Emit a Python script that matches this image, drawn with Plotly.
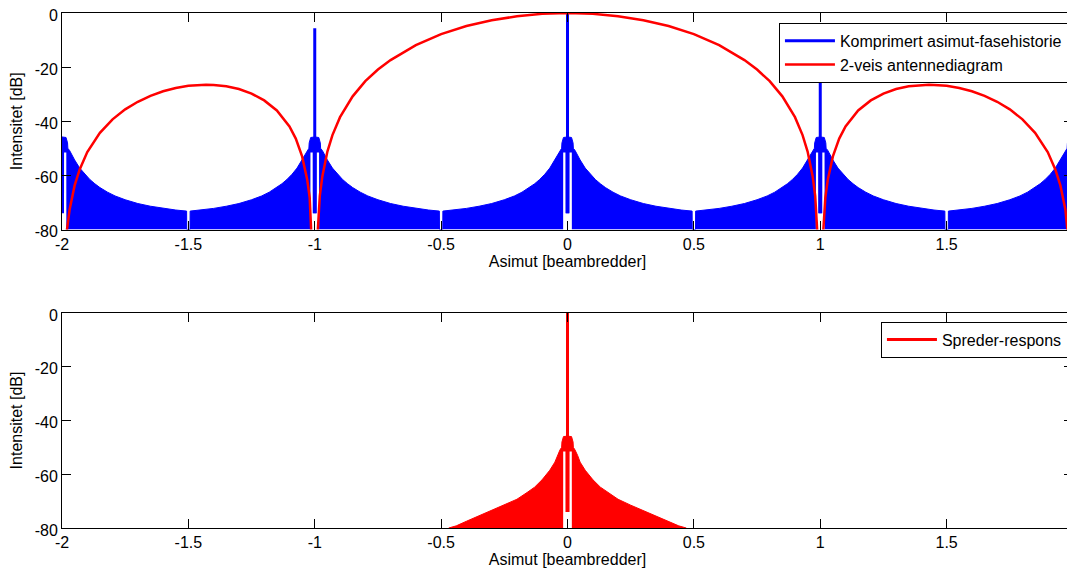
import numpy as np
import plotly.graph_objects as go

# ---------------- data ----------------
# x tick positions / labels (beamwidths) and y ticks (dB)
x_ticks = [-2, -1.5, -1, -0.5, 0, 0.5, 1, 1.5, 2]
x_tick_labels = ["-2", "-1.5", "-1", "-0.5", "0", "0.5", "1", "1.5", "2"]
y_ticks = [0, -20, -40, -60, -80]
y_tick_labels = ["0", "-20", "-40", "-60", "-80"]

# Compressed azimuth phase history: lobe centres and spike peaks
lobe_centres = [-2, -1, 0, 1, 2]
spike_x = [-1, 0, 1]
spike_peak_db = [-5.6, 0.0, -5.6]
spike_floor_db = -74.0

# Upper envelope of one lobe vs. offset from its centre (top panel)
top_offset = [0.0, 0.016, 0.022, 0.0232, 0.03, 0.04, 0.05, 0.07, 0.09, 0.11, 0.13,
              0.15, 0.18, 0.21, 0.25, 0.30, 0.35, 0.40, 0.45, 0.493, 0.4935, 0.5]
top_upper_db = [-45.8, -46, -48, -50, -50.8, -52.6, -54.3, -57.3, -59.6, -61.5, -63.1,
                -64.5, -66.2, -67.6, -69.0, -70.4, -71.4, -72.2, -72.8, -73.2, -80, -80]

# Lower envelope (white gaps next to the spike)
low_offset = [0.0, 0.008, 0.0082, 0.017, 0.0172, 0.5]
low_db = [-74, -74, -51.5, -51.5, -80, -80]

# Scatterer response (bottom panel), single lobe at 0
bot_offset = [0.0, 0.016, 0.022, 0.0232, 0.03, 0.04, 0.05, 0.07, 0.10, 0.13, 0.16,
              0.20, 0.25, 0.30, 0.35, 0.40, 0.44, 0.47]
bot_upper_db = [-45.8, -46, -48, -50, -51, -53, -55.5, -58.5, -62, -64.8, -66.8,
                -69.3, -71.5, -73.5, -75.5, -77.5, -79.2, -80]
bot_low_offset = [0.0, 0.008, 0.0082, 0.017, 0.0172, 0.47]
bot_low_db = [-74, -74, -51.5, -51.5, -80, -80]
bot_spike_peak_db = 0.0

# Two-way antenna pattern (x >= 0, symmetric)
ant_x = [0, 0.1, 0.2, 0.3, 0.4, 0.5, 0.6, 0.7, 0.75, 0.8, 0.85, 0.9, 0.93, 0.95, 0.97,
         0.98, 0.988, 1.0, 1.012, 1.02, 1.03, 1.05, 1.075, 1.1, 1.15, 1.2, 1.25, 1.3,
         1.35, 1.4, 1.43, 1.45, 1.5, 1.55, 1.6, 1.65, 1.7, 1.75, 1.8, 1.85, 1.9, 1.93,
         1.95, 1.97, 1.98, 1.99, 2.0]
ant_db = [0, -0.3, -1.2, -2.7, -4.8, -7.8, -11.9, -17.4, -20.9, -25.2, -30.8, -38.5,
          -45.1, -51.2, -60.4, -67.6, -80.5, -110, -80.5, -68.3, -61.5, -53.0, -46.4,
          -41.9, -36.0, -32.3, -29.8, -28.1, -27.1, -26.6, -26.5, -26.6, -26.9, -27.7,
          -28.9, -30.6, -32.8, -35.6, -39.3, -44.3, -51.4, -57.8, -63.7, -72.7, -79.8,
          -92, -110]

BLUE = "#0000FF"
RED = "#FF0000"
FONT = "Liberation Sans, Arial, sans-serif"


def mirror(offsets, values, centre):
    o = np.asarray(offsets, float)
    v = np.asarray(values, float)
    xs = np.concatenate([centre - o[::-1], centre + o[1:]])
    ys = np.concatenate([v[::-1], v[1:]])
    return xs, ys


def lobes(offsets, values, centres):
    xs, ys = [], []
    for c in centres:
        x, y = mirror(offsets, values, c)
        xs.append(x)
        ys.append(y)
    return np.concatenate(xs), np.concatenate(ys)


fig = go.Figure()

# ---------------- top panel ----------------
lx, ly = lobes(low_offset, low_db, lobe_centres)
ux, uy = lobes(top_offset, top_upper_db, lobe_centres)
fig.add_trace(go.Scatter(x=lx, y=ly, mode="lines", line=dict(color=BLUE, width=0),
                         showlegend=False, hoverinfo="skip", xaxis="x", yaxis="y"))
fig.add_trace(go.Scatter(x=ux, y=uy, mode="lines", line=dict(color=BLUE, width=1),
                         fill="tonexty", fillcolor=BLUE, showlegend=False,
                         hoverinfo="skip", xaxis="x", yaxis="y"))
sx, sy = [], []
for xc, pk in zip(spike_x, spike_peak_db):
    sx += [xc, xc, None]
    sy += [spike_floor_db, pk, None]
fig.add_trace(go.Scatter(x=sx, y=sy, mode="lines", line=dict(color=BLUE, width=3),
                         name="Komprimert asimut-fasehistorie", legend="legend",
                         xaxis="x", yaxis="y"))
ax_full, ay_full = mirror(ant_x, ant_db, 0.0)
fig.add_trace(go.Scatter(x=ax_full, y=ay_full, mode="lines", line=dict(color=RED, width=2.5),
                         name="2-veis antennediagram", legend="legend",
                         xaxis="x", yaxis="y"))

# ---------------- bottom panel ----------------
blx, bly = mirror(bot_low_offset, bot_low_db, 0.0)
bux, buy = mirror(bot_offset, bot_upper_db, 0.0)
fig.add_trace(go.Scatter(x=blx, y=bly, mode="lines", line=dict(color=RED, width=0),
                         showlegend=False, hoverinfo="skip", xaxis="x2", yaxis="y2"))
fig.add_trace(go.Scatter(x=bux, y=buy, mode="lines", line=dict(color=RED, width=1),
                         fill="tonexty", fillcolor=RED, showlegend=False,
                         hoverinfo="skip", xaxis="x2", yaxis="y2"))
fig.add_trace(go.Scatter(x=[0, 0], y=[spike_floor_db, bot_spike_peak_db], mode="lines",
                         line=dict(color=RED, width=3), name="Spreder-respons",
                         legend="legend2", xaxis="x2", yaxis="y2"))

axis_common = dict(showline=True, linecolor="black", linewidth=1, mirror="allticks",
                   ticks="inside", ticklen=9, tickcolor="black", showgrid=False,
                   zeroline=False, automargin=False, ticklabeloverflow="allow",
                   tickfont=dict(family=FONT, size=16, color="black"))

xa = dict(axis_common, range=[-2, 2], tickvals=x_ticks, ticktext=x_tick_labels,
          title=dict(text="Asimut [beambredder]", font=dict(family=FONT, size=16, color="black"),
                     standoff=0))
ya = dict(axis_common, range=[-80, 0], tickvals=y_ticks, ticktext=y_tick_labels,
          ticklabelshift=2,
          title=dict(text="Intensitet [dB]", font=dict(family=FONT, size=16, color="black"),
                     standoff=11))

legend_style = dict(bgcolor="white", bordercolor="black", borderwidth=1,
                    font=dict(family=FONT, size=16, color="black"),
                    xanchor="right", yanchor="top", tracegroupgap=0,
                    traceorder="normal", itemwidth=50)

# The page body adds an 8 px offset, so the figure is sized to fit the window.
fig.update_layout(
    width=1067, height=565,
    margin=dict(l=54, r=2, t=5, b=45, autoexpand=False),
    paper_bgcolor="white", plot_bgcolor="white",
    xaxis=dict(xa, domain=[0, 1], anchor="y"),
    yaxis=dict(ya, domain=[0.5796, 1], anchor="x"),
    xaxis2=dict(xa, domain=[0, 1], anchor="y2"),
    yaxis2=dict(ya, domain=[0, 0.4175], anchor="x2"),
    legend=dict(legend_style, x=0.995, y=0.981),
    legend2=dict(legend_style, x=0.995, y=0.4006),
    showlegend=True,
)

fig.write_html("out.html")
